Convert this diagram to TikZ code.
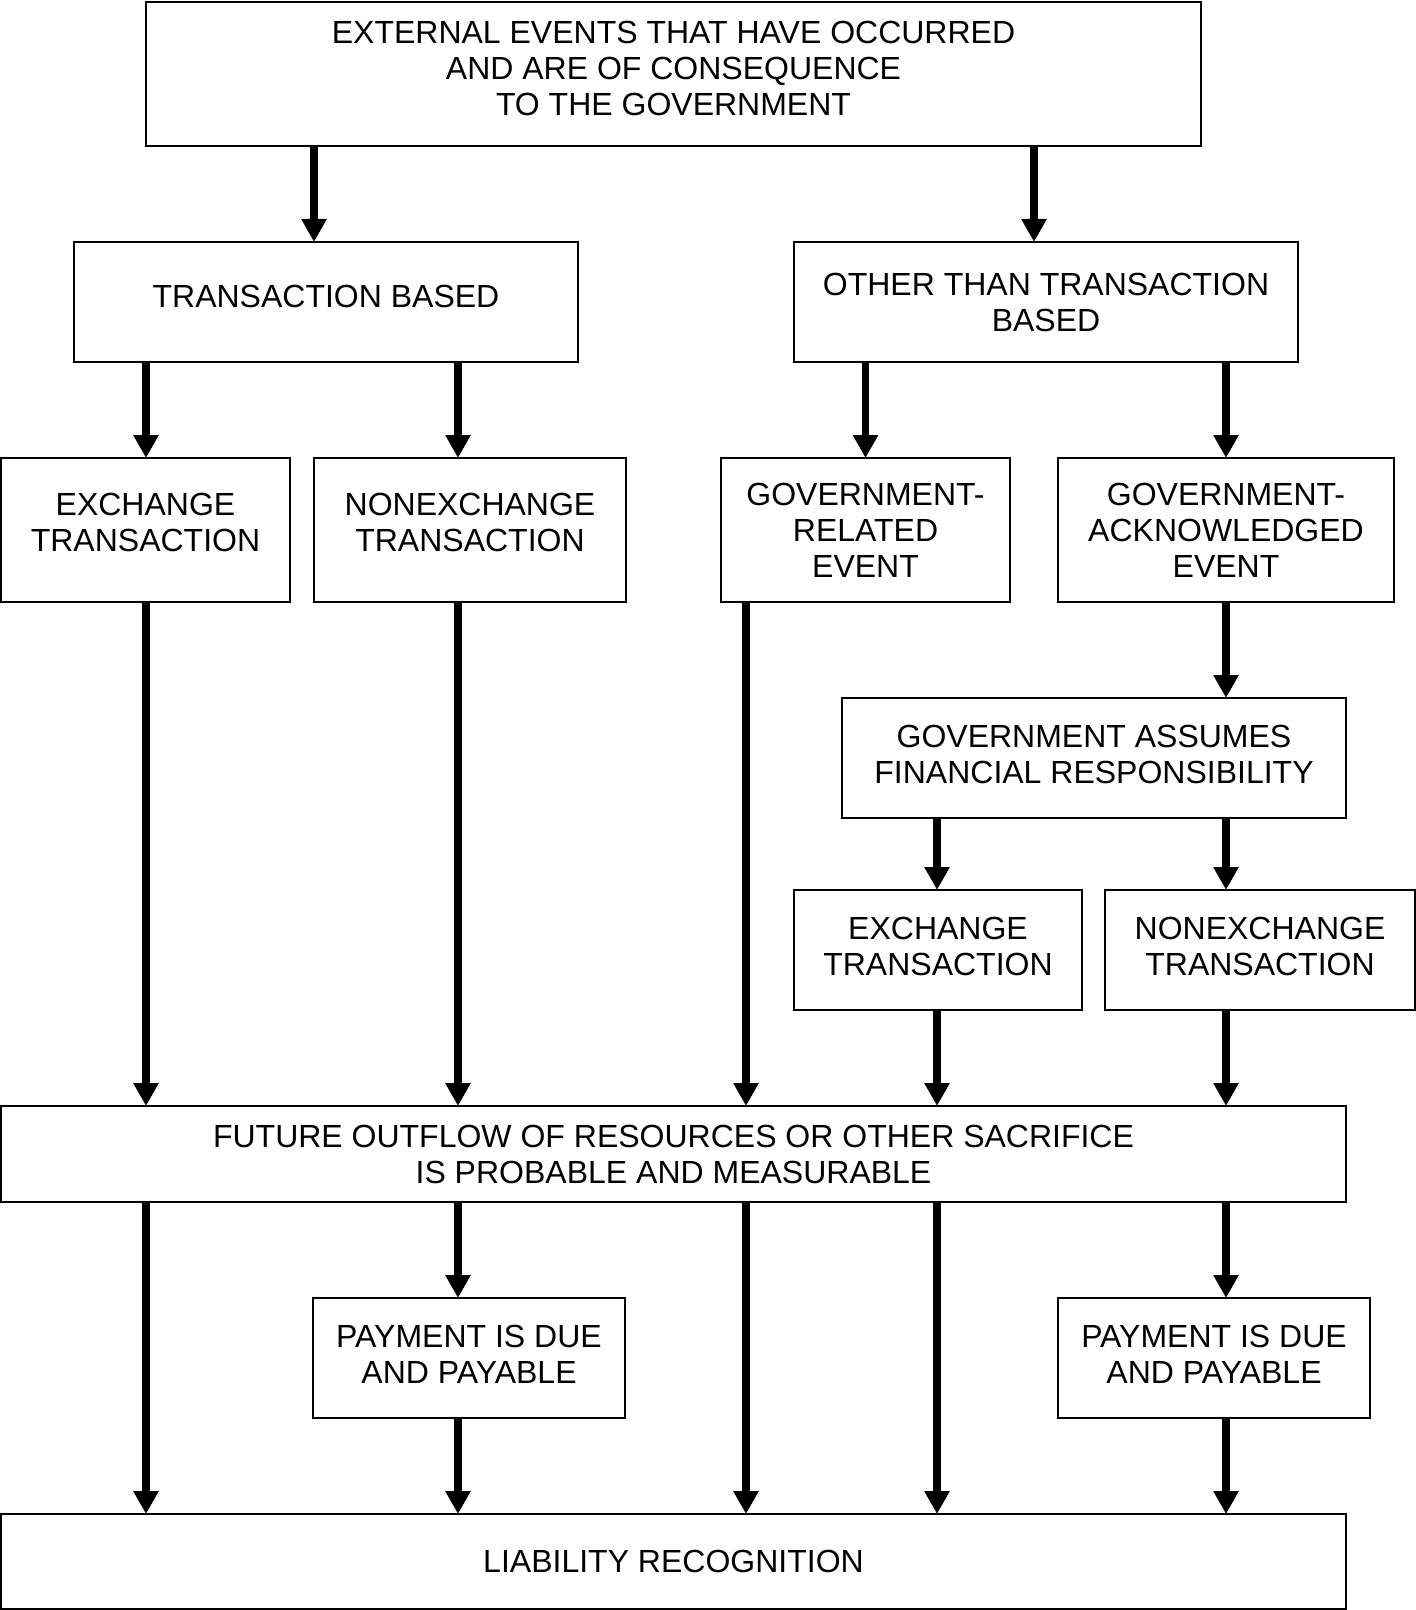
\documentclass[tikz,border=0pt]{standalone}
\usepackage{fontspec}
\setmainfont{Liberation Sans}
\usepackage{tikz}
\usetikzlibrary{arrows.meta}
\usetikzlibrary{positioning}

\begin{document}
\begin{tikzpicture}[x=0.5pt,y=-0.5pt]
	\tikzset{>={Triangle[width=12pt,length=11.5pt]}}
	\tikzset{blk/.style={draw=black, line width=1.3pt, align=center, inner sep=0pt, outer sep=0pt, font=\fontsize{16}{18}\selectfont}}
	\tikzset{lift/.style={text depth=#1}}
	\tikzset{arr/.style={->, line width=3.8pt, color=black}}
	\useasboundingbox (0,0) rectangle (1416,1610);
	% columns of the arrows
	\coordinate (colA) at (146,0);
	\coordinate (colB) at (458,0);
	\coordinate (colC) at (746,0);
	\coordinate (colD) at (937,0);
	\coordinate (colE) at (1226,0);
	% boxes
	\node[blk, lift=6pt, minimum width=527.5pt, minimum height=72pt] (events) at (673.5,74) {EXTERNAL EVENTS THAT HAVE OCCURRED\\AND ARE OF CONSEQUENCE\\TO THE GOVERNMENT};
	\node[blk, lift=6pt, minimum width=252pt, minimum height=60pt] (tbased) at (326,302) {TRANSACTION BASED};
	\node[blk, minimum width=252pt, minimum height=60pt] (otbased) at (1046,302) {OTHER THAN TRANSACTION\\BASED};
	\node[blk, lift=8pt, minimum width=144.5pt, minimum height=72pt] (exA) at (145.5,530) {EXCHANGE\\TRANSACTION};
	\node[blk, lift=8pt, minimum width=156pt, minimum height=72pt] (nexA) at (470,530) {NONEXCHANGE\\TRANSACTION};
	\node[blk, minimum width=144.5pt, minimum height=72pt] (grel) at (865.5,530) {GOVERNMENT-\\RELATED\\EVENT};
	\node[blk, minimum width=168pt, minimum height=72pt] (gack) at (1226,530) {GOVERNMENT-\\ACKNOWLEDGED\\EVENT};
	\node[blk, lift=4pt, minimum width=252pt, minimum height=60pt] (gassume) at (1094,758) {GOVERNMENT ASSUMES\\FINANCIAL RESPONSIBILITY};
	\node[blk, lift=4pt, minimum width=144pt, minimum height=60pt] (exB) at (938,950) {EXCHANGE\\TRANSACTION};
	\node[blk, lift=4pt, minimum width=155pt, minimum height=60pt] (nexB) at (1260,950) {NONEXCHANGE\\TRANSACTION};
	\node[blk, minimum width=672.5pt, minimum height=48pt] (outflow) at (673.5,1154) {FUTURE OUTFLOW OF RESOURCES OR OTHER SACRIFICE\\IS PROBABLE AND MEASURABLE};
	\node[blk, lift=4pt, minimum width=156pt, minimum height=60pt] (payA) at (469,1358) {PAYMENT IS DUE\\AND PAYABLE};
	\node[blk, lift=4pt, minimum width=156pt, minimum height=60pt] (payB) at (1214,1358) {PAYMENT IS DUE\\AND PAYABLE};
	\node[blk, minimum width=672.5pt, minimum height=47.5pt] (liab) at (673.5,1561.5) {LIABILITY RECOGNITION};
	% arrows
	\draw[arr] ([xshift=-6pt]tbased.north |- events.south) -- ([xshift=-6pt]tbased.north);
	\draw[arr] ([xshift=-6pt]otbased.north |- events.south) -- ([xshift=-6pt]otbased.north);
	\draw[arr] (colA |- tbased.south) -- (colA |- exA.north);
	\draw[arr] (colB |- tbased.south) -- (colB |- nexA.north);
	\draw[arr] (grel.north |- otbased.south) -- (grel.north);
	\draw[arr] (colE |- otbased.south) -- (colE |- gack.north);
	\draw[arr] (colE |- gack.south) -- (colE |- gassume.north);
	\draw[arr] (colD |- gassume.south) -- (colD |- exB.north);
	\draw[arr] (colE |- gassume.south) -- (colE |- nexB.north);
	\draw[arr] (colA |- exA.south) -- (colA |- outflow.north);
	\draw[arr] (colB |- nexA.south) -- (colB |- outflow.north);
	\draw[arr] (colC |- grel.south) -- (colC |- outflow.north);
	\draw[arr] (colD |- exB.south) -- (colD |- outflow.north);
	\draw[arr] (colE |- nexB.south) -- (colE |- outflow.north);
	\draw[arr] (colA |- outflow.south) -- (colA |- liab.north);
	\draw[arr] (colB |- outflow.south) -- (colB |- payA.north);
	\draw[arr] (colB |- payA.south) -- (colB |- liab.north);
	\draw[arr] (colC |- outflow.south) -- (colC |- liab.north);
	\draw[arr] (colD |- outflow.south) -- (colD |- liab.north);
	\draw[arr] (colE |- outflow.south) -- (colE |- payB.north);
	\draw[arr] (colE |- payB.south) -- (colE |- liab.north);
\end{tikzpicture}
\end{document}
